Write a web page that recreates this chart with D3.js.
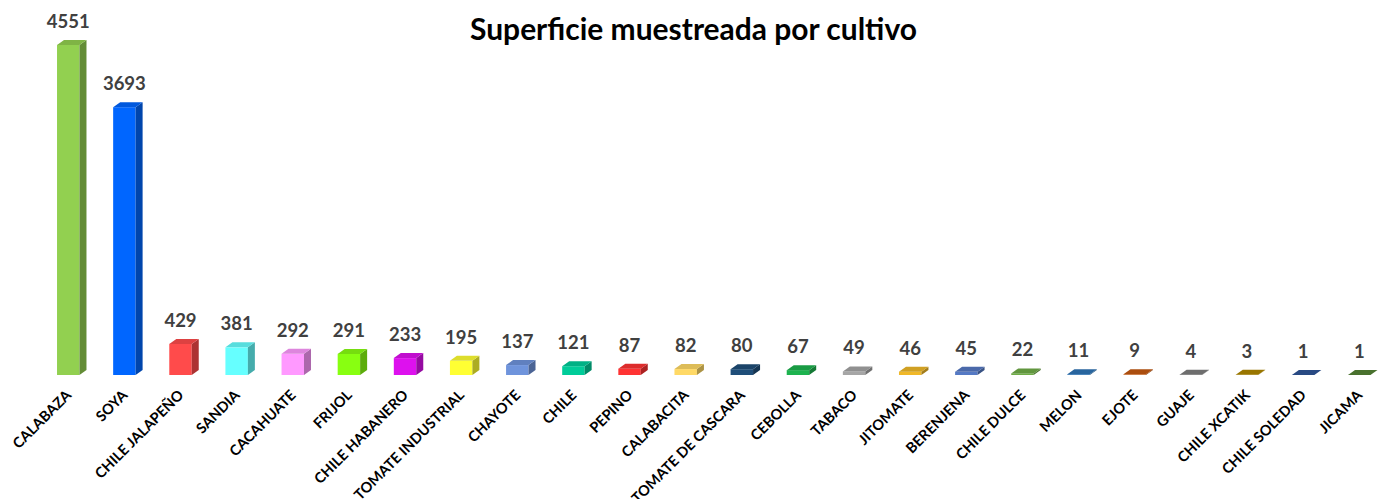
<!DOCTYPE html>
<html>
<head>
<meta charset="utf-8">
<script src="https://cdn.jsdelivr.net/npm/d3@7"></script>
<style>
  body { margin: 0; background: #fff; }
  svg { display: block; }
  .title { font-family: Lato, "Open Sans", sans-serif; font-weight: bold; fill: #000; }
  .value { font-family: Lato, sans-serif; font-weight: bold; font-size: 18.5px; fill: #404040; }
  .cat { font-family: Lato, sans-serif; font-weight: bold; font-size: 14.5px; fill: #000; }
</style>
</head>
<body>
<script>
  // data
  let crops = ["CALABAZA", "SOYA", "CHILE JALAPEÑO", "SANDIA", "CACAHUATE", "FRIJOL",
    "CHILE HABANERO", "TOMATE INDUSTRIAL", "CHAYOTE", "CHILE", "PEPINO", "CALABACITA",
    "TOMATE DE CASCARA", "CEBOLLA", "TABACO", "JITOMATE", "BERENJENA", "CHILE DULCE",
    "MELON", "EJOTE", "GUAJE", "CHILE XCATIK", "CHILE SOLEDAD", "JICAMA"];
  let area = [4551, 3693, 429, 381, 292, 291, 233, 195, 137, 121, 87, 82, 80, 67, 49, 46,
    45, 22, 11, 9, 4, 3, 1, 1];
  let colors = ["#92D050", "#0066FF", "#FF4B4B", "#66FFFF", "#FF99FF", "#88FF11",
    "#DD11EE", "#FFFF33", "#6F94DC", "#00CC99", "#FF3333", "#FFD966",
    "#1F4E79", "#1DB34F", "#A6A6A6", "#F0B828", "#5579C4", "#70AD47",
    "#2E75B6", "#C55A11", "#7F7F7F", "#B08800", "#2F5597", "#548235"];
  let titleText = "Superficie muestreada por cultivo";

  let width = 1383, height = 499;
  let baseY = 375, topY = 45;
  let depthX = 7, depthY = 5; // fake 3d offset

  let data = crops.map(function(c, i) { return {name: c, value: area[i], color: colors[i]}; });

  let svg = d3.select("body").append("svg")
    .attr("width", width)
    .attr("height", height);

  // x: one band per crop
  let xScale = d3.scaleBand()
    .domain(crops)
    .range([45.8, 1381.7])
    .paddingInner(0.6)
    .paddingOuter(0.2);

  // y: value to height
  let yScale = d3.scaleLinear()
    .domain([0, d3.max(area)])
    .range([baseY, topY]);

  // title, sized to the reference width
  let title = svg.append("text")
    .attr("class", "title")
    .attr("x", 693.5)
    .attr("y", 40)
    .attr("text-anchor", "middle")
    .style("font-size", "24px")
    .text(titleText);
  let tw = title.node().getComputedTextLength();
  title.style("font-size", (24 * 447 / tw) + "px");

  let bars = svg.selectAll(".bar")
    .data(data)
    .enter().append("g")
    .attr("class", "bar");

  // front face
  bars.append("rect")
    .attr("x", function(d) { return xScale(d.name); })
    .attr("y", function(d) { return yScale(d.value); })
    .attr("width", xScale.bandwidth())
    .attr("height", function(d) { return baseY - yScale(d.value); })
    .attr("fill", function(d) { return d.color; });

  // side face
  bars.append("path")
    .attr("d", function(d) {
      let x1 = xScale(d.name) + xScale.bandwidth(), y = yScale(d.value);
      return "M" + x1 + "," + y + "L" + (x1 + depthX) + "," + (y - depthY) +
        "L" + (x1 + depthX) + "," + (baseY - depthY) + "L" + x1 + "," + baseY + "Z";
    })
    .attr("fill", function(d) { return d3.color(d.color).darker(1.1); });

  // top face
  bars.append("path")
    .attr("d", function(d) {
      let x0 = xScale(d.name), x1 = x0 + xScale.bandwidth(), y = yScale(d.value);
      return "M" + x0 + "," + y + "L" + (x0 + depthX) + "," + (y - depthY) +
        "L" + (x1 + depthX) + "," + (y - depthY) + "L" + x1 + "," + y + "Z";
    })
    .attr("fill", function(d) { return d3.color(d.color).darker(0.4); });

  // value labels
  bars.append("text")
    .attr("class", "value")
    .attr("x", function(d) { return xScale(d.name) + xScale.bandwidth() / 2; })
    .attr("y", function(d) { return yScale(d.value) - 17; })
    .attr("text-anchor", "middle")
    .text(function(d) { return d.value; });

  // category labels, rotated
  bars.append("text")
    .attr("class", "cat")
    .attr("text-anchor", "end")
    .attr("transform", function(d) {
      let cx = xScale(d.name) + xScale.bandwidth() / 2;
      return "translate(" + (cx + 4) + "," + 396 + ") rotate(-45)";
    })
    .text(function(d) { return d.name; });
</script>
</body>
</html>
